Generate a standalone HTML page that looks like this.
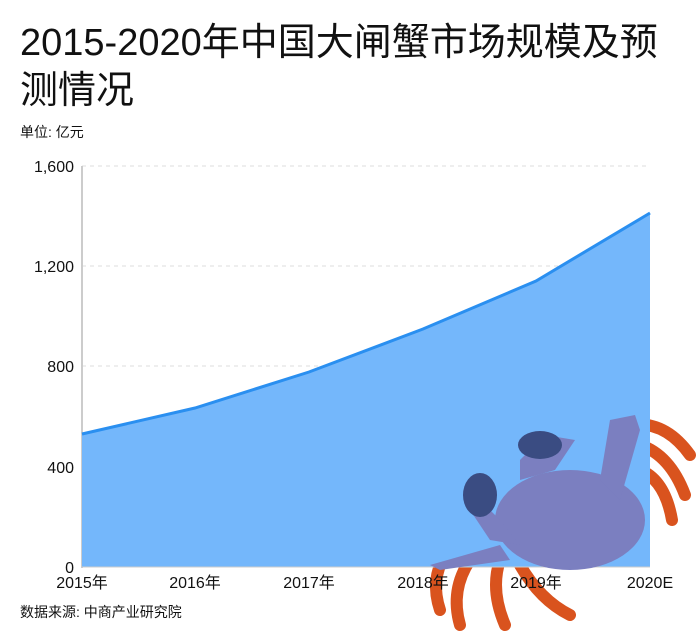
<!DOCTYPE html>
<html><head><meta charset="utf-8"><style>
body{margin:0;width:700px;height:638px;background:#fff;overflow:hidden;font-family:"Liberation Sans","Noto Sans CJK SC",sans-serif}
</style></head><body>
<svg width="700" height="638" xmlns="http://www.w3.org/2000/svg" font-family="Liberation Sans, Noto Sans CJK SC, sans-serif">
<text x="20" y="55" font-size="38" fill="#111">2015-2020年中国大闸蟹市场规模及预</text>
<text x="20" y="103" font-size="38" fill="#111">测情况</text>
<text x="20" y="137" font-size="14" fill="#111">单位: 亿元</text>
<g stroke="#ddd" stroke-dasharray="4,4">
<line x1="82" y1="166" x2="650" y2="166"/><line x1="82" y1="266" x2="650" y2="266"/>
<line x1="82" y1="366" x2="650" y2="366"/><line x1="82" y1="467" x2="650" y2="467"/>
</g>
<line x1="82" y1="166" x2="82" y2="568" stroke="#ccc" stroke-width="2"/>
<g font-size="16" fill="#111" text-anchor="end">
<text x="74" y="172">1,600</text><text x="74" y="272">1,200</text><text x="74" y="372">800</text><text x="74" y="473">400</text><text x="74" y="573">0</text>
</g>
<!-- crab legs behind -->
<g stroke="#d9531e" stroke-width="12" fill="none" stroke-linecap="round">
<path d="M630 425 Q665 420 690 455"/><path d="M640 445 Q670 455 685 495"/><path d="M640 470 Q665 480 672 520"/>
<path d="M470 560 Q450 590 460 625"/><path d="M500 560 Q490 590 505 625"/><path d="M520 565 Q540 600 570 615"/><path d="M445 555 Q430 580 440 610"/>
</g>
<path d="M82 434 L195 408 L309 372 L423 329 L536 281 L650 213 L650 567 L82 567 Z" fill="#74b7fb"/>
<path d="M82 434 L195 408 L309 372 L423 329 L536 281 L650 213" fill="none" stroke="#2a8ff0" stroke-width="3"/>
<line x1="82" y1="567" x2="650" y2="567" stroke="#ccc"/>
<!-- crab body over area -->
<g fill="#7b7fc0">
<ellipse cx="570" cy="520" rx="75" ry="50"/>
<path d="M600 480 L610 420 L635 415 L640 430 L620 500Z"/>
<path d="M520 480 L555 470 L575 440 L545 435 L520 460Z"/>
<path d="M470 510 L490 540 L520 545 L500 520 L480 500Z"/>
<path d="M430 565 L500 545 L510 560 L440 570Z"/>
</g>
<g fill="#3a4c82"><ellipse cx="540" cy="445" rx="22" ry="14"/><ellipse cx="480" cy="495" rx="17" ry="22"/></g>
<g font-size="16" fill="#111" text-anchor="middle">
<text x="82" y="588">2015年</text><text x="195" y="588">2016年</text><text x="309" y="588">2017年</text><text x="423" y="588">2018年</text><text x="536" y="588">2019年</text><text x="650" y="588">2020E</text>
</g>
<text x="20" y="617" font-size="14" fill="#111">数据来源: 中商产业研究院</text>
</svg>
</body></html>
